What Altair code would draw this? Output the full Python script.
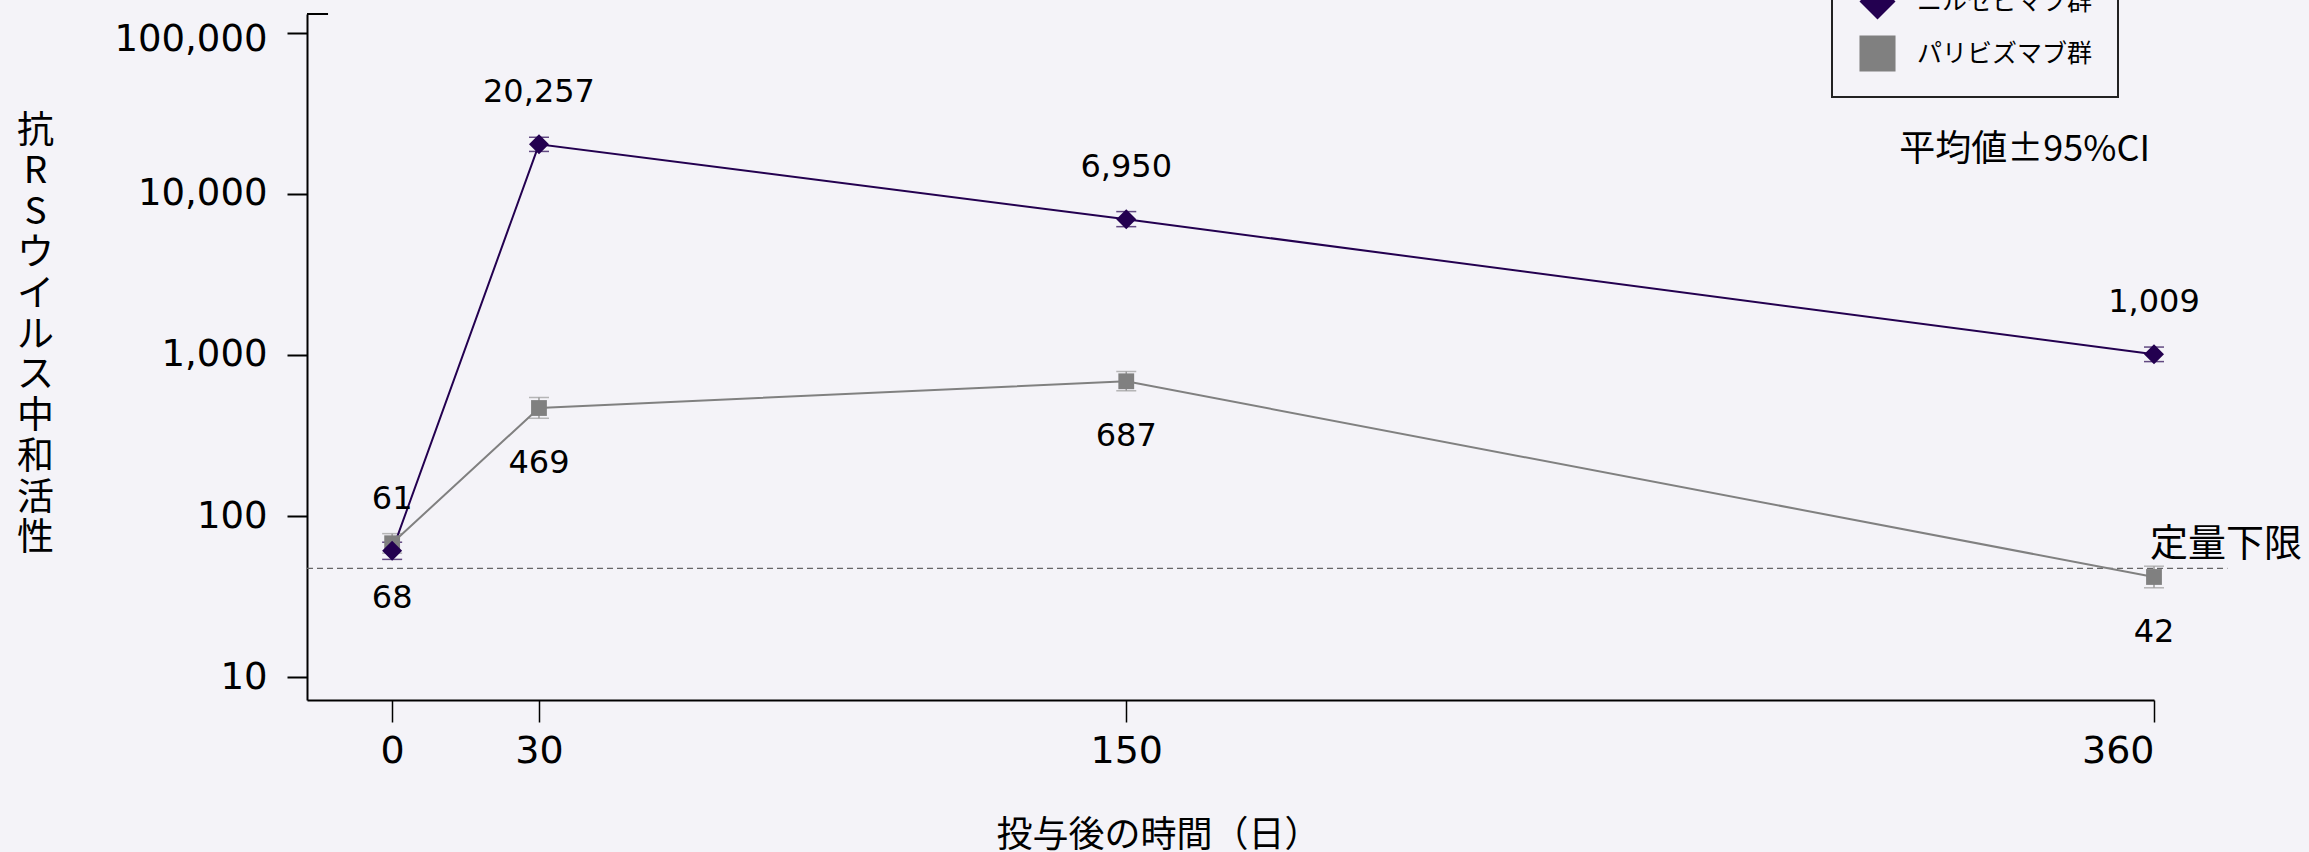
import altair as alt
import pandas as pd

# ---- data ----
days = [0, 30, 150, 360]
groups = ["ニルセビマブ群", "パリビズマブ群"]
nirse_mean = [61, 20257, 6950, 1009]
nirse_lo = [54, 18300, 6250, 910]
nirse_hi = [69, 22400, 7750, 1120]
pali_mean = [68, 469, 687, 42]
pali_lo = [59, 405, 600, 36]
pali_hi = [78, 545, 790, 49]
lloq = 47.5
x_ticks = [0, 30, 150, 360]
y_ticks = [10, 100, 1000, 10000, 100000]
y_title = "抗RSウイルス中和活性"
x_title = "投与後の時間（日）"
note = "平均値±95%CI"
lloq_label = "定量下限"

PURPLE = "#230050"
GRAY = "#808080"
EGRAY = "#9a9a9a"
BG = "#f4f3f8"
JP = "Noto Sans CJK JP"
LAT = "DejaVu Sans"

rows = []
for g, m, lo, hi in [(groups[0], nirse_mean, nirse_lo, nirse_hi),
                     (groups[1], pali_mean, pali_lo, pali_hi)]:
    for d, a, b, c in zip(days, m, lo, hi):
        rows.append({"day": d, "group": g, "mean": a, "lo": b, "hi": c})
df = pd.DataFrame(rows)

XDOM = [-17.4, 360]
YDOM = [7.25, 130250]

xs = alt.Scale(domain=XDOM, nice=False, zero=False)
ys = alt.Scale(type="log", domain=YDOM, nice=False)

x_axis = alt.Axis(values=x_ticks, format="d", labelFont=LAT, labelFontSize=38,
                  labelColor="black", tickSize=22, tickWidth=1.5, tickColor="black",
                  domainColor="black", domainWidth=2, labelPadding=10, grid=False,
                  title=x_title, titleFont=JP, titleFontSize=36, titleFontWeight="normal",
                  titleColor="black", titleX=851, titleY=118, titleAlign="center",
                  titleBaseline="top")
y_axis = alt.Axis(values=y_ticks, format=",", labelFont=LAT, labelFontSize=37,
                  labelColor="black", tickSize=20, tickWidth=2, tickColor="black",
                  domainColor="black", domainWidth=2, labelPadding=20, grid=False,
                  labelFlush=20, labelFlushOffset=11,
                  title=list(y_title), titleAngle=0, titleFont=JP, titleFontSize=37,
                  titleFontWeight="normal", titleColor="black", titleLineHeight=40.8,
                  titleX=-272, titleY=99, titleAlign="center", titleBaseline="top")

color = alt.Scale(domain=groups, range=[PURPLE, GRAY])
shape = alt.Scale(domain=groups, range=["diamond", "square"])

legend = alt.Legend(title=None, orient="none", legendX=1525, legendY=-56,
                    direction="vertical", labelFont=JP, labelFontSize=25,
                    labelColor="black", padding=25, symbolOffset=2, labelOffset=21,
                    rowPadding=15, labelLimit=600,
                    labelExpr="datum.label + '\u3000  '",
                    symbolSize=1300, fillColor=BG, strokeColor="#222",
                    symbolStrokeWidth=0, symbolOpacity=1)

base = alt.Chart(df)

lloq_rule = alt.Chart(pd.DataFrame({"y": [lloq]})).mark_rule(
    strokeDash=[6, 4], color="#666666", strokeWidth=1.2
).encode(x=alt.datum(XDOM[0], scale=xs, axis=x_axis), x2=alt.datum(375),
         y=alt.Y("y:Q", scale=ys, axis=y_axis))

top_cap = alt.Chart(pd.DataFrame({"y": [YDOM[1]]})).mark_rule(
    color="black", strokeWidth=2
).encode(x=alt.datum(XDOM[0]), x2=alt.datum(-13.1), y="y:Q")

lines = base.mark_line(strokeWidth=2).encode(
    x=alt.X("day:Q"), y=alt.Y("mean:Q"),
    color=alt.Color("group:N", scale=color, legend=legend),
    order=alt.Order("day:Q"))


def errbars(g, col):
    b = base.transform_filter(alt.datum.group == g)
    r = b.mark_rule(strokeWidth=1.5, color=col).encode(x="day:Q", y="lo:Q", y2="hi:Q")
    lo = b.mark_tick(orient="horizontal", size=20, thickness=1.5, color=col).encode(x="day:Q", y="lo:Q")
    hi = b.mark_tick(orient="horizontal", size=20, thickness=1.5, color=col).encode(x="day:Q", y="hi:Q")
    return [r, lo, hi]


points = base.mark_point(filled=True, opacity=1).encode(
    x="day:Q", y="mean:Q",
    color=alt.Color("group:N", scale=color, legend=legend),
    shape=alt.Shape("group:N", scale=shape, legend=legend),
    size=alt.condition(alt.datum.group == groups[0], alt.value(400), alt.value(250)),
    order=alt.Order("group:N", sort="descending"))

lab_top = base.transform_filter(alt.datum.group == groups[0]).mark_text(
    font=LAT, fontSize=32, color="black", dy=-52, baseline="middle"
).encode(x="day:Q", y="mean:Q", text=alt.Text("mean:Q", format=","))
lab_bot = base.transform_filter(alt.datum.group == groups[1]).mark_text(
    font=LAT, fontSize=32, color="black", dy=55, baseline="middle"
).encode(x="day:Q", y="mean:Q", text=alt.Text("mean:Q", format=","))

note_txt = alt.Chart(pd.DataFrame({"t": [note]})).mark_text(
    font=JP, fontSize=36, color="black", align="right", baseline="middle"
).encode(x=alt.value(1843), y=alt.value(136), text="t:N")

lloq_txt = alt.Chart(pd.DataFrame({"t": [lloq_label]})).mark_text(
    font=JP, fontSize=38, color="black", align="left", baseline="alphabetic"
).encode(x=alt.value(1843), y=alt.value(542), text="t:N")

layers = [lloq_rule, top_cap] + errbars(groups[1], EGRAY) + [lines] + errbars(groups[0], PURPLE) + \
         [points, lab_top, lab_bot, note_txt, lloq_txt]

chart = alt.layer(*layers).properties(
    width=1847, height=686,
    autosize=alt.AutoSizeParams(type="none"),
    padding={"left": 307, "top": 14, "right": 155, "bottom": 152},
    background=BG,
).configure_view(stroke=None).configure_legend(strokeWidth=2)

chart.save("out.html", embed_options={"renderer": "svg", "actions": False})
